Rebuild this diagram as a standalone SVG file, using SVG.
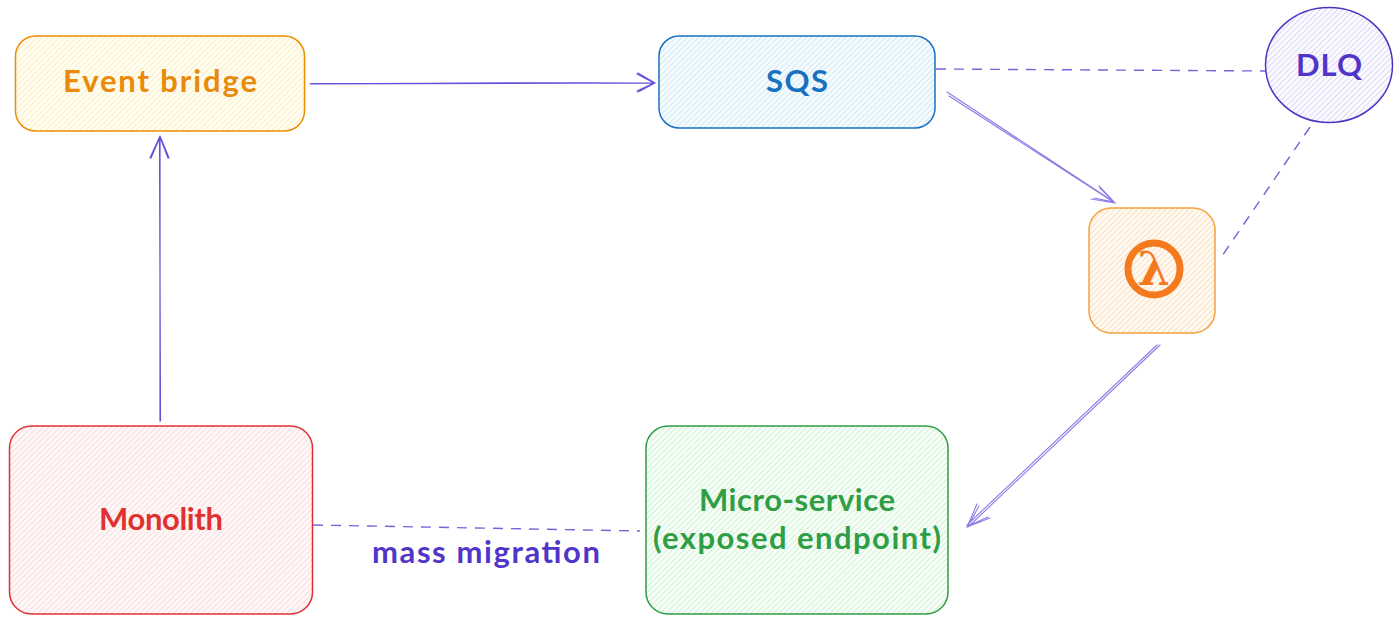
<svg xmlns="http://www.w3.org/2000/svg" width="1400" height="624" viewBox="0 0 1400 624">
<style>
.n{stroke-width:1.5}
.t{font-family:"Lato","Noto Sans",sans-serif;font-size:31px;text-anchor:middle;font-weight:700}
.a{fill:none;stroke:#6a4fd8;stroke-width:1.2;stroke-linecap:round;stroke-linejoin:round}
.a2{fill:none;stroke:#8f7be6;stroke-width:1.1;stroke-linecap:round}
.d{fill:none;stroke:#7a62dc;stroke-width:1.4;stroke-dasharray:10 8}
</style>
<defs>
<pattern id="hy" width="4" height="4" patternUnits="userSpaceOnUse" patternTransform="rotate(45)"><rect width="4" height="4" fill="#fffdf4"/><line x1="0" y1="0" x2="0" y2="4" stroke="#fbe9a8" stroke-width="1.4"/></pattern>
<pattern id="hb" width="4" height="4" patternUnits="userSpaceOnUse" patternTransform="rotate(45)"><rect width="4" height="4" fill="#f6fbfe"/><line x1="0" y1="0" x2="0" y2="4" stroke="#bfe2f4" stroke-width="1.4"/></pattern>
<pattern id="hp" width="4" height="4" patternUnits="userSpaceOnUse" patternTransform="rotate(45)"><rect width="4" height="4" fill="#fafaff"/><line x1="0" y1="0" x2="0" y2="4" stroke="#cfcaf3" stroke-width="1.4"/></pattern>
<pattern id="ho" width="4" height="4" patternUnits="userSpaceOnUse" patternTransform="rotate(45)"><rect width="4" height="4" fill="#fffaf3"/><line x1="0" y1="0" x2="0" y2="4" stroke="#fbd6a6" stroke-width="1.4"/></pattern>
<pattern id="hr" width="4" height="4" patternUnits="userSpaceOnUse" patternTransform="rotate(45)"><rect width="4" height="4" fill="#fff8f8"/><line x1="0" y1="0" x2="0" y2="4" stroke="#f9d0d0" stroke-width="1.4"/></pattern>
<pattern id="hg" width="4" height="4" patternUnits="userSpaceOnUse" patternTransform="rotate(45)"><rect width="4" height="4" fill="#f7fdf7"/><line x1="0" y1="0" x2="0" y2="4" stroke="#c1ecc6" stroke-width="1.4"/></pattern>
</defs>
<rect width="1400" height="624" fill="#fff"/>
<g id="connectors">
<path class="a" d="M310 84L654 83M311 83.500C420 84 540 82 654 83M638 73L655 83L638 92M637 74L654 83L637 91"/>
<path class="a" d="M160 421L160 136M160.500 421L159.500 137M150 158L160 136L169 158M151 158L160 137L168 158"/>
<path class="a2" d="M947 92L1114 202M949 96L1115 203M1099 186L1115 203L1091 199M1100 188L1114 202L1094 198"/>
<path class="a2" d="M1160 345L968 527M1157 345L967 525M977 504L967 527L990 518M979 506L968 526L988 517"/>
<path class="d" d="M936 69L1266 71"/>
<path class="d" d="M1310 127L1220 259"/>
<path class="d" d="M313 525L640 531"/>
</g>
<g id="event-bridge"><rect class="n" x="15.500" y="36" width="289" height="95" rx="20" fill="url(#hy)" stroke="#f08c00"/><text class="t" x="160" y="92" fill="#e98a0a" textLength="194">Event bridge</text></g>
<g id="sqs"><rect class="n" x="659" y="36" width="276" height="92" rx="20" fill="url(#hb)" stroke="#1971c2"/><text class="t" x="797" y="92" fill="#1971c2" textLength="62">SQS</text></g>
<g id="dlq"><ellipse class="n" cx="1329" cy="65" rx="63.500" ry="57.500" fill="url(#hp)" stroke="#4c35c4"/><text class="t" x="1329" y="76" fill="#5135c8" textLength="66">DLQ</text></g>
<g id="lambda"><rect class="n" x="1089" y="208" width="126" height="125" rx="22" fill="url(#ho)" stroke="#f5a33f"/><circle cx="1154" cy="269" r="26" fill="none" stroke="#f4791f" stroke-width="7"/><text x="1154" y="285" font-family="'DejaVu Serif',serif" font-size="46" font-weight="700" text-anchor="middle" fill="#f4791f">λ</text></g>
<g id="monolith"><rect class="n" x="9.500" y="426" width="303" height="188" rx="22" fill="url(#hr)" stroke="#e03131"/><text class="t" x="161" y="530" fill="#e03131" textLength="124">Monolith</text></g>
<g id="micro-service"><rect class="n" x="646" y="426" width="302" height="188" rx="22" fill="url(#hg)" stroke="#2f9e44"/><text class="t" x="797" y="511" fill="#2f9e44" textLength="196">Micro-service</text><text class="t" x="797" y="549" fill="#2f9e44" textLength="288">(exposed endpoint)</text></g>
<text id="label" class="t" x="486" y="563" fill="#5135c8" textLength="228">mass migration</text>
</svg>
